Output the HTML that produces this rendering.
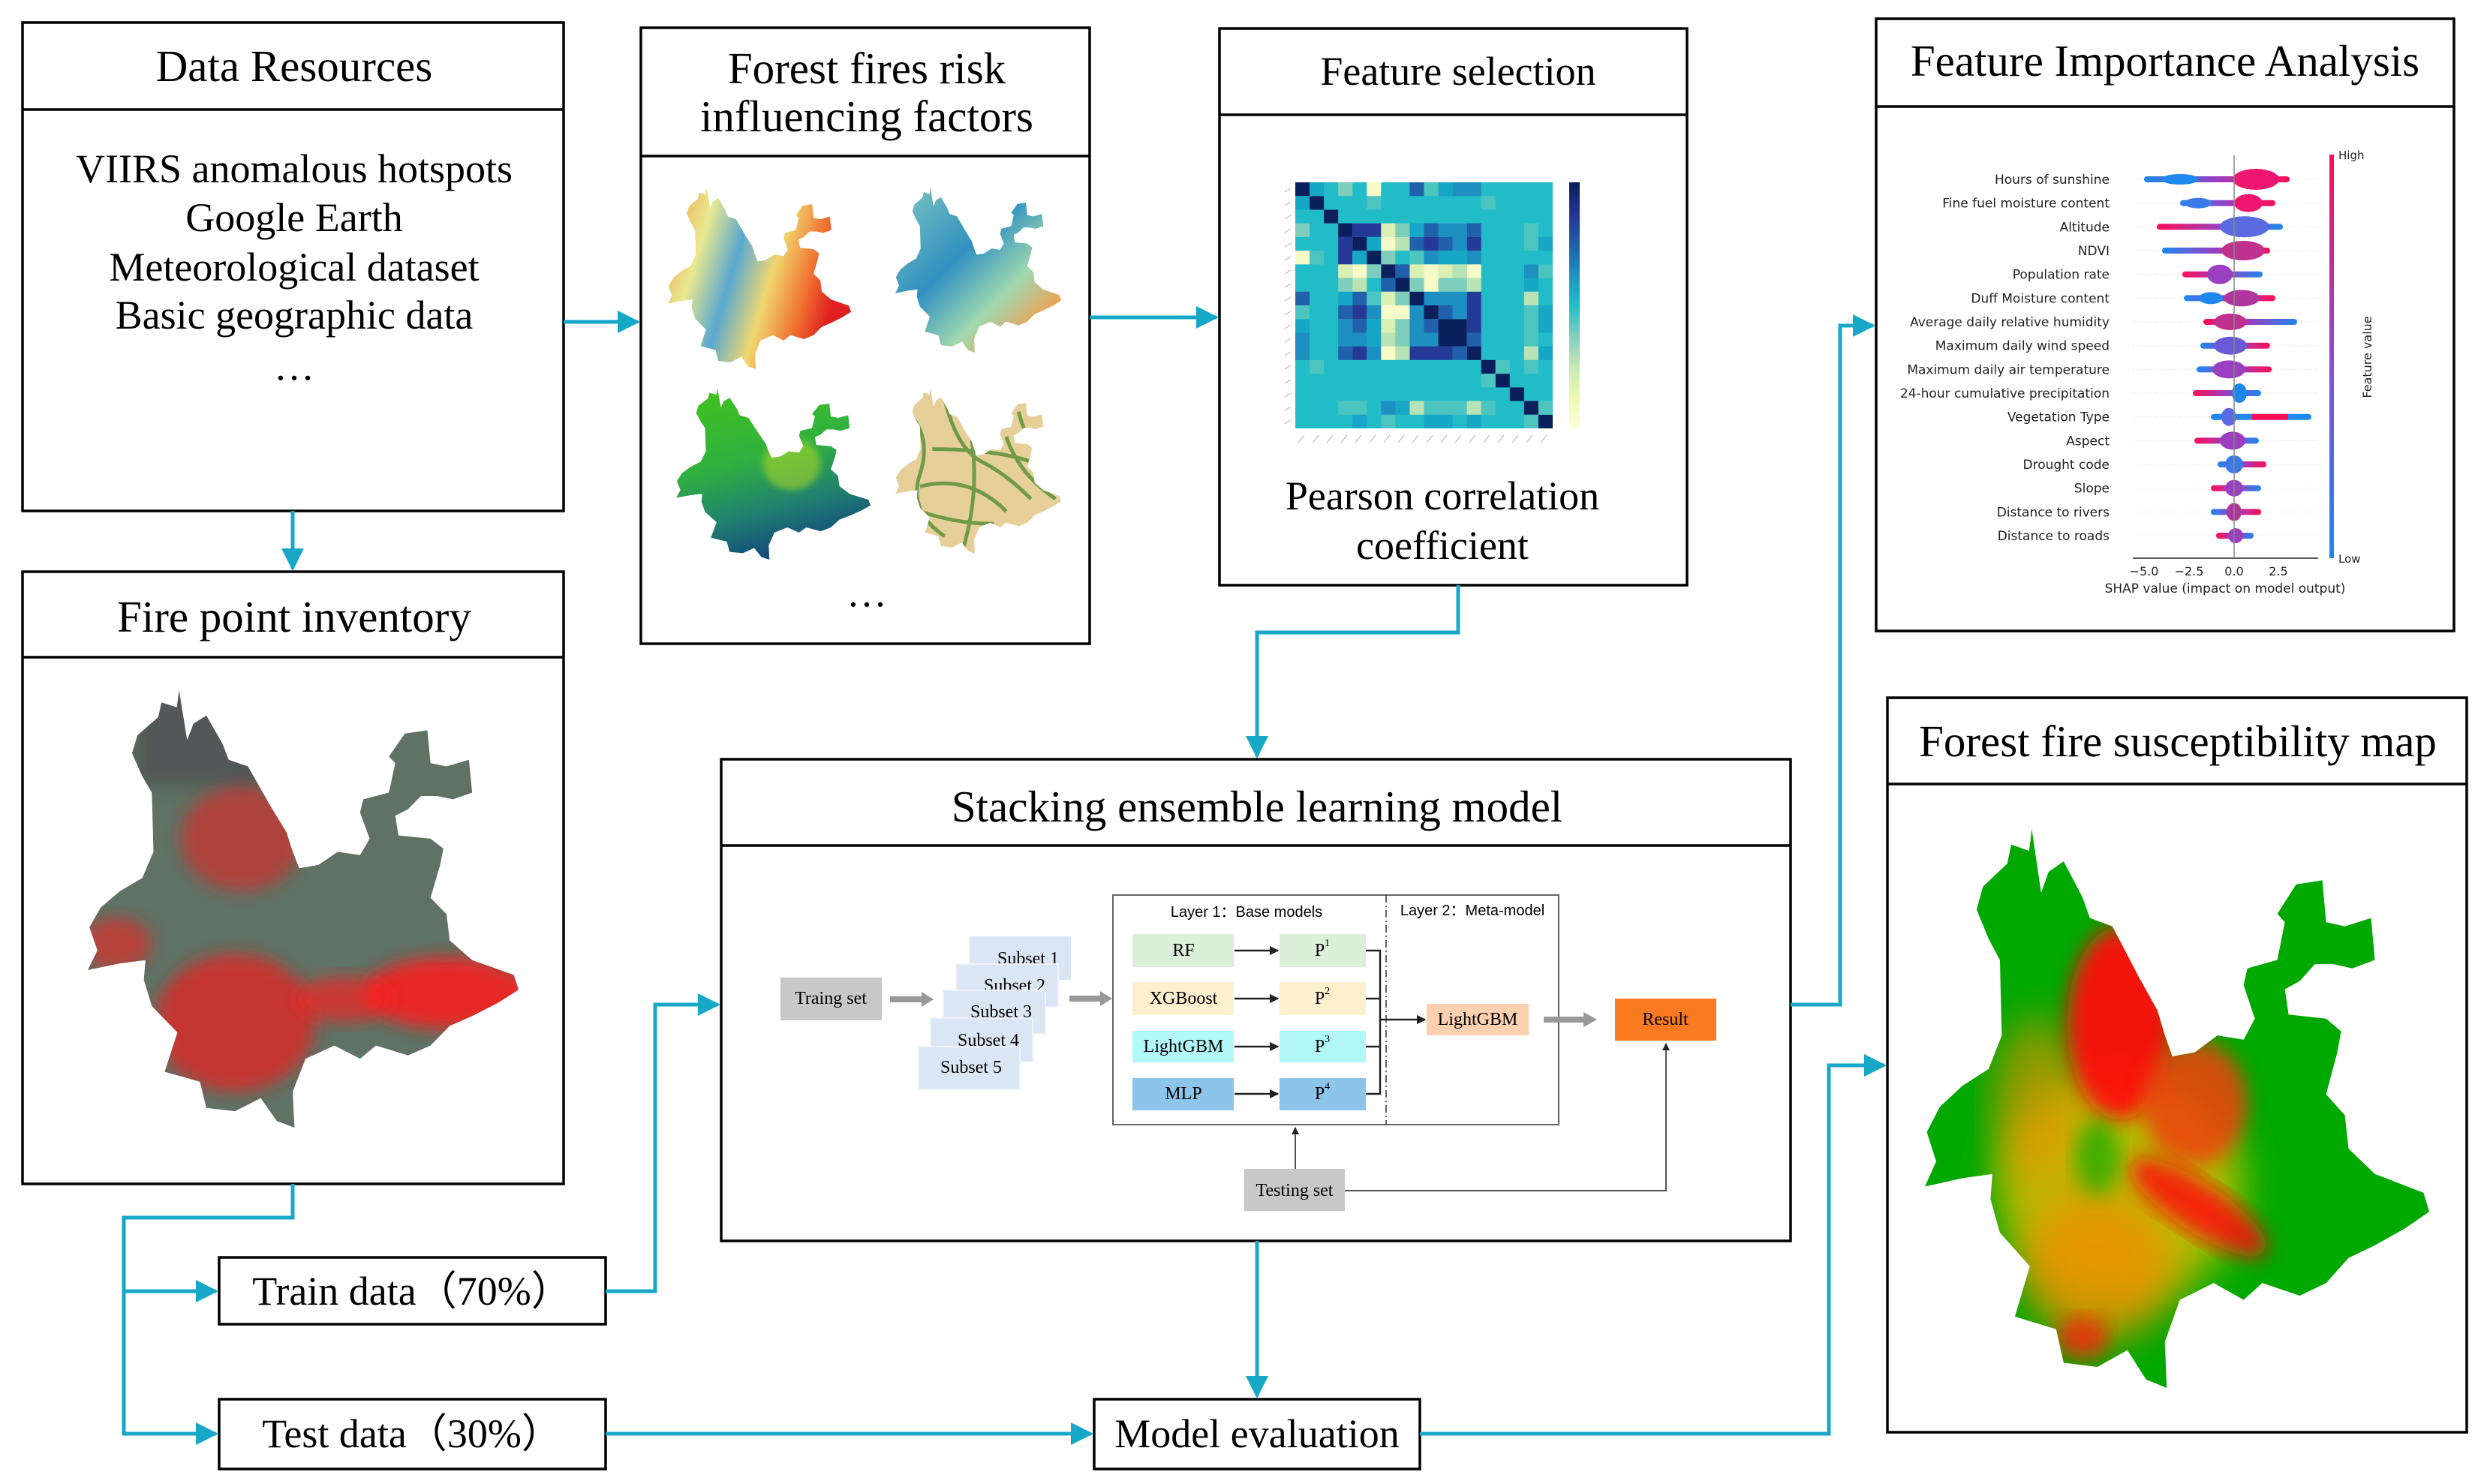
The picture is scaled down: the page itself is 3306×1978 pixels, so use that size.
<!DOCTYPE html>
<html><head><meta charset="utf-8"><style>
html,body{margin:0;padding:0;background:#fff;}
svg{display:block;}
.t{font-family:"Liberation Serif",serif;fill:#000;}
.s{font-family:"DejaVu Sans","Liberation Sans",sans-serif;fill:#222;}
</style></head><body>
<svg width="3306" height="1978" viewBox="0 0 3306 1978" xmlns="http://www.w3.org/2000/svg">
<defs>
<path id="yn" d="M385,108 L410,260 L430,210 L470,185 L520,270 L540,320 L600,340 L670,460 L720,540 L740,600 L760,650 L820,640 L880,600 L950,610 L980,560 L950,480 L960,440 L1040,420 L1060,330 L1040,310 L1090,240 L1160,230 L1170,330 L1220,340 L1290,320 L1300,420 L1240,440 L1190,430 L1140,430 L1100,470 L1060,490 L1070,550 L1170,560 L1210,590 L1200,640 L1170,740 L1220,790 L1230,870 L1300,930 L1430,975 L1445,1020 L1380,1060 L1300,1100 L1230,1130 L1170,1190 L1100,1220 L1000,1190 L950,1230 L870,1190 L780,1230 L740,1330 L745,1440 L690,1420 L640,1350 L560,1390 L470,1380 L450,1300 L340,1270 L380,1150 L300,1070 L275,990 L280,930 L200,940 L100,960 L130,900 L105,830 L140,770 L200,720 L270,680 L305,600 L300,420 L270,370 L238,300 L255,245 L320,190 L330,145 L378,160 Z"/>
<clipPath id="ynclip"><use href="#yn"/></clipPath>
<filter id="bl" x="-20%" y="-20%" width="140%" height="140%"><feGaussianBlur stdDeviation="25"/></filter>
<filter id="bl2" x="-20%" y="-20%" width="140%" height="140%"><feGaussianBlur stdDeviation="50"/></filter>
<linearGradient id="g1" x1="0" y1="0" x2="1" y2="0.3"><stop offset="0" stop-color="#f0a040"/><stop offset="0.25" stop-color="#e8e890"/><stop offset="0.45" stop-color="#5aa8d0"/><stop offset="0.65" stop-color="#f0d870"/><stop offset="0.85" stop-color="#f07030"/><stop offset="1" stop-color="#e02020"/></linearGradient>
<linearGradient id="g2" x1="0" y1="0" x2="1" y2="1"><stop offset="0" stop-color="#80c8c0"/><stop offset="0.4" stop-color="#3090c0"/><stop offset="0.65" stop-color="#a0d8b0"/><stop offset="0.85" stop-color="#f0a050"/><stop offset="1" stop-color="#d01030"/></linearGradient>
<linearGradient id="g3" x1="0.3" y1="0" x2="0.6" y2="1"><stop offset="0" stop-color="#40c020"/><stop offset="0.4" stop-color="#30b040"/><stop offset="0.7" stop-color="#208070"/><stop offset="1" stop-color="#104080"/></linearGradient>
<linearGradient id="cb" x1="0" y1="1" x2="0" y2="0"><stop offset="0" stop-color="#ffffd9"/><stop offset="0.125" stop-color="#edf8b1"/><stop offset="0.25" stop-color="#c7e9b4"/><stop offset="0.375" stop-color="#7fcdbb"/><stop offset="0.5" stop-color="#1fbfc8"/><stop offset="0.625" stop-color="#1d91c0"/><stop offset="0.75" stop-color="#225ea8"/><stop offset="0.875" stop-color="#253494"/><stop offset="1" stop-color="#081d58"/></linearGradient>
<linearGradient id="shc" x1="0" y1="1" x2="0" y2="0"><stop offset="0" stop-color="#1e88f0"/><stop offset="0.5" stop-color="#8a4ad0"/><stop offset="1" stop-color="#ff0d57"/></linearGradient>
<linearGradient id="bp" x1="0" y1="0" x2="1" y2="0"><stop offset="0" stop-color="#1e88f0"/><stop offset="0.5" stop-color="#9a3fc0"/><stop offset="1" stop-color="#ff0d57"/></linearGradient>
<linearGradient id="pb" x1="0" y1="0" x2="1" y2="0"><stop offset="0" stop-color="#ff0d57"/><stop offset="0.5" stop-color="#9a3fc0"/><stop offset="1" stop-color="#1e88f0"/></linearGradient>
<marker id="ah" viewBox="0 0 10 10" refX="9" refY="5" markerWidth="6" markerHeight="6" markerUnits="strokeWidth" orient="auto"><path d="M0,0 L10,5 L0,10 Z" fill="#17a8c8"/></marker>
<marker id="ak" viewBox="0 0 10 10" refX="9" refY="5" markerWidth="5" markerHeight="5" markerUnits="strokeWidth" orient="auto"><path d="M0,0 L10,5 L0,10 Z" fill="#222"/></marker>
</defs>

<!-- boxes -->
<g fill="none" stroke="#000" stroke-width="3.5">
<rect x="30" y="30" width="721" height="651"/><line x1="30" y1="146" x2="751" y2="146"/>
<rect x="30" y="762" width="721" height="816"/><line x1="30" y1="876" x2="751" y2="876"/>
<rect x="854" y="37" width="598" height="821"/><line x1="854" y1="208" x2="1452" y2="208"/>
<rect x="1625" y="38" width="623" height="742"/><line x1="1625" y1="153" x2="2248" y2="153"/>
<rect x="2500" y="25" width="770" height="816"/><line x1="2500" y1="142" x2="3270" y2="142"/>
<rect x="961" y="1012" width="1425" height="642"/><line x1="961" y1="1127" x2="2386" y2="1127"/>
<rect x="2515" y="930" width="772" height="979"/><line x1="2515" y1="1045" x2="3287" y2="1045"/>
<rect x="292" y="1676" width="515" height="89"/>
<rect x="292" y="1865" width="515" height="93"/>
<rect x="1458" y="1865" width="434" height="93"/>
</g>

<!-- titles -->
<g class="t" text-anchor="middle" dominant-baseline="central">
<g font-size="59">
<text x="392" y="88">Data Resources</text>
<text x="392" y="822">Fire point inventory</text>
<text x="1155" y="91">Forest fires risk</text>
<text x="1155" y="155">influencing factors</text>
<text x="2885" y="81">Feature Importance Analysis</text>
<text x="1675" y="1075">Stacking ensemble learning model</text>
<text x="2902" y="988">Forest fire susceptibility map</text>
</g>
<g font-size="54">
<text x="392" y="225">VIIRS anomalous hotspots</text>
<text x="392" y="290">Google Earth</text>
<text x="392" y="356">Meteorological dataset</text>
<text x="392" y="420">Basic geographic data</text>
<text x="392" y="488">…</text>
<text x="1155" y="790">…</text>
<text x="1943" y="95">Feature selection</text>
<text x="1922" y="661">Pearson correlation</text>
<text x="1922" y="727">coefficient</text>
<text x="549" y="1721">Train data（70%）</text>
<text x="549" y="1911">Test data（30%）</text>
<text x="1675" y="1911">Model evaluation</text>
</g>
</g>

<!-- connectors -->
<g fill="none" stroke="#17a8c8" stroke-width="5">
<path d="M751,429 H850" marker-end="url(#ah)"/>
<path d="M1452,423 H1621" marker-end="url(#ah)"/>
<path d="M390,681 V758" marker-end="url(#ah)"/>
<path d="M1943,780 V843 H1675 V1008" marker-end="url(#ah)"/>
<path d="M2386,1339 H2452 V434 H2496" marker-end="url(#ah)"/>
<path d="M390,1578 V1623 H165 V1911 H288" marker-end="url(#ah)"/>
<path d="M165,1721 H288" marker-end="url(#ah)"/>
<path d="M807,1721 H873 V1339 H957" marker-end="url(#ah)"/>
<path d="M807,1911 H1454" marker-end="url(#ah)"/>
<path d="M1675,1654 V1861" marker-end="url(#ah)"/>
<path d="M1892,1911 H2437 V1420 H2511" marker-end="url(#ah)"/>
</g>

<!-- Fire point map -->
<g transform="translate(117,920) scale(0.4268,0.4377) translate(-100,-108)">
<g clip-path="url(#ynclip)">
<rect x="0" y="0" width="1600" height="1600" fill="#5f7264"/>
<rect x="250" y="100" width="400" height="300" fill="#4a4a50" opacity="0.6" filter="url(#bl)"/>
<ellipse cx="1220" cy="1030" rx="260" ry="110" fill="#ff1a1a" opacity="0.85" filter="url(#bl)"/>
<ellipse cx="560" cy="1120" rx="250" ry="210" fill="#f01a1a" opacity="0.7" filter="url(#bl)"/>
<ellipse cx="580" cy="560" rx="190" ry="160" fill="#f01a1a" opacity="0.55" filter="url(#bl)"/>
<ellipse cx="190" cy="880" rx="110" ry="80" fill="#ff1a1a" opacity="0.55" filter="url(#bl)"/>
<ellipse cx="900" cy="1050" rx="150" ry="70" fill="#ff1a1a" opacity="0.65" filter="url(#bl)"/>
</g></g>

<!-- small maps -->
<g transform="translate(890,250) scale(0.1814,0.1817) translate(-100,-108)"><use href="#yn" fill="url(#g1)"/></g>
<g transform="translate(1193,250) scale(0.1643,0.1652) translate(-100,-108)"><use href="#yn" fill="url(#g2)"/></g>
<g transform="translate(901,517) scale(0.1926,0.1719) translate(-100,-108)"><use href="#yn" fill="url(#g3)"/><g clip-path="url(#ynclip)"><ellipse cx="900" cy="700" rx="200" ry="200" fill="#c0e020" opacity="0.5" filter="url(#bl)"/></g></g>
<g transform="translate(1193,517) scale(0.1643,0.1659) translate(-100,-108)"><use href="#yn" fill="#e6cf98"/><g clip-path="url(#ynclip)" stroke="#6f9a48" stroke-width="30" fill="none"><path d="M200,300 Q400,500 300,800 T500,1300 M500,200 Q600,600 800,700 T1200,1000 M300,900 Q700,800 1000,1100 M700,400 Q800,900 650,1400 M1000,500 Q1100,800 1400,1000 M400,600 Q900,600 1200,700 M300,1100 Q600,1200 900,1200 M1100,300 Q1150,500 1250,600"/></g></g>

<!-- heatmap -->
<svg x="1726" y="243" width="343" height="328" viewBox="0 0 18 18" preserveAspectRatio="none">
<rect x="0" y="0" width="18" height="18" fill="#22bcc8"/>
<path fill="#0b1f5c" d="M0 0h1v1h-1z M1 1h1v1h-1z M2 2h1v1h-1z M3 3h1v1h-1z M4 4h1v1h-1z M5 5h1v1h-1z M6 6h1v1h-1z M7 7h1v1h-1z M8 8h1v1h-1z M9 9h1v1h-1z M10 10h1v1h-1z M11 11h1v1h-1z M12 12h1v1h-1z M13 13h1v1h-1z M14 14h1v1h-1z M15 15h1v1h-1z M16 16h1v1h-1z M17 17h1v1h-1z M11 10h1v1h-1z M10 11h1v1h-1z"/>
<path fill="#243a96" d="M4 3h1v1h-1z M3 4h1v1h-1z M5 3h1v1h-1z M3 5h1v1h-1z M9 4h1v1h-1z M4 9h1v1h-1z M12 4h1v1h-1z M4 12h1v1h-1z M12 8h1v1h-1z M8 12h1v1h-1z M12 9h1v1h-1z M9 12h1v1h-1z M12 10h1v1h-1z M10 12h1v1h-1z"/>
<path fill="#2160aa" d="M8 0h1v1h-1z M0 8h1v1h-1z M9 3h1v1h-1z M3 9h1v1h-1z M12 3h1v1h-1z M3 12h1v1h-1z M8 4h1v1h-1z M4 8h1v1h-1z M10 4h1v1h-1z M4 10h1v1h-1z M7 6h1v1h-1z M6 7h1v1h-1z M10 9h1v1h-1z M9 10h1v1h-1z M12 11h1v1h-1z M11 12h1v1h-1z"/>
<path fill="#1d8fc0" d="M11 0h1v1h-1z M0 11h1v1h-1z M12 0h1v1h-1z M0 12h1v1h-1z M10 3h1v1h-1z M3 10h1v1h-1z M11 3h1v1h-1z M3 11h1v1h-1z M11 4h1v1h-1z M4 11h1v1h-1z M9 5h1v1h-1z M5 9h1v1h-1z M12 5h1v1h-1z M5 12h1v1h-1z M16 6h1v1h-1z M6 16h1v1h-1z M9 8h1v1h-1z M8 9h1v1h-1z M10 8h1v1h-1z M8 10h1v1h-1z M11 8h1v1h-1z M8 11h1v1h-1z M11 9h1v1h-1z M9 11h1v1h-1z"/>
<path fill="#16a6c6" d="M1 0h1v1h-1z M0 1h1v1h-1z M10 0h1v1h-1z M0 10h1v1h-1z M8 3h1v1h-1z M3 8h1v1h-1z M5 4h1v1h-1z M4 5h1v1h-1z M17 4h1v1h-1z M4 17h1v1h-1z M10 5h1v1h-1z M5 10h1v1h-1z M11 5h1v1h-1z M5 11h1v1h-1z M16 7h1v1h-1z M7 16h1v1h-1z M17 9h1v1h-1z M9 17h1v1h-1z M17 10h1v1h-1z M10 17h1v1h-1z M17 12h1v1h-1z M12 17h1v1h-1z"/>
<path fill="#4cc4c0" d="M9 0h1v1h-1z M0 9h1v1h-1z M5 1h1v1h-1z M1 5h1v1h-1z M13 1h1v1h-1z M1 13h1v1h-1z M16 3h1v1h-1z M3 16h1v1h-1z M16 4h1v1h-1z M4 16h1v1h-1z M8 5h1v1h-1z M5 8h1v1h-1z M17 6h1v1h-1z M6 17h1v1h-1z M16 9h1v1h-1z M9 16h1v1h-1z M16 10h1v1h-1z M10 16h1v1h-1z M16 11h1v1h-1z M11 16h1v1h-1z M14 13h1v1h-1z M13 14h1v1h-1z M16 13h1v1h-1z M13 16h1v1h-1z M17 16h1v1h-1z M16 17h1v1h-1z"/>
<path fill="#7fcdbb" d="M3 0h1v1h-1z M0 3h1v1h-1z M7 3h1v1h-1z M3 7h1v1h-1z M6 5h1v1h-1z M5 6h1v1h-1z M8 7h1v1h-1z M7 8h1v1h-1z M10 7h1v1h-1z M7 10h1v1h-1z M11 7h1v1h-1z M7 11h1v1h-1z"/>
<path fill="#b8e3b5" d="M7 4h1v1h-1z M4 7h1v1h-1z M11 6h1v1h-1z M6 11h1v1h-1z M12 7h1v1h-1z M7 12h1v1h-1z M16 8h1v1h-1z M8 16h1v1h-1z M16 12h1v1h-1z M12 16h1v1h-1z"/>
<path fill="#dcf0b4" d="M6 3h1v1h-1z M3 6h1v1h-1z M8 6h1v1h-1z M6 8h1v1h-1z M10 6h1v1h-1z M6 10h1v1h-1z"/>
<path fill="#f6fbc8" d="M5 0h1v1h-1z M0 5h1v1h-1z M6 4h1v1h-1z M4 6h1v1h-1z M9 6h1v1h-1z M6 9h1v1h-1z M12 6h1v1h-1z M6 12h1v1h-1z M9 7h1v1h-1z M7 9h1v1h-1z"/>
</svg>
<rect x="2091" y="243" width="14" height="328" fill="url(#cb)"/>
<g stroke="#aaa" stroke-width="1">
<path d="M1712,256 l8,-5 M1712,274 l8,-5 M1712,292 l8,-5 M1712,310 l8,-5 M1712,329 l8,-5 M1712,347 l8,-5 M1712,365 l8,-5 M1712,383 l8,-5 M1712,401 l8,-5 M1712,420 l8,-5 M1712,438 l8,-5 M1712,456 l8,-5 M1712,474 l8,-5 M1712,492 l8,-5 M1712,511 l8,-5 M1712,529 l8,-5 M1712,547 l8,-5 M1712,565 l8,-5"/>
<path d="M1730,590 l8,-10 M1749,590 l8,-10 M1768,590 l8,-10 M1787,590 l8,-10 M1806,590 l8,-10 M1825,590 l8,-10 M1844,590 l8,-10 M1863,590 l8,-10 M1882,590 l8,-10 M1901,590 l8,-10 M1920,590 l8,-10 M1939,590 l8,-10 M1958,590 l8,-10 M1977,590 l8,-10 M1996,590 l8,-10 M2015,590 l8,-10 M2034,590 l8,-10 M2053,590 l8,-10"/>
</g>

<!-- SHAP -->
<g stroke="#ccc" stroke-width="1" stroke-dasharray="1,3">
<path d="M2842,239H3089 M2842,270.7H3089 M2842,302.3H3089 M2842,334H3089 M2842,365.7H3089 M2842,397.4H3089 M2842,429H3089 M2842,460.7H3089 M2842,492.4H3089 M2842,524H3089 M2842,555.7H3089 M2842,587.4H3089 M2842,619H3089 M2842,650.7H3089 M2842,682.4H3089 M2842,714H3089"/>
</g>
<g>
<rect x="2857" y="235" width="194" height="8" rx="4" fill="url(#bp)"/><ellipse cx="2905" cy="239" rx="25" ry="7" fill="#1e88f0"/><ellipse cx="3006" cy="239" rx="31" ry="14" fill="#f01570"/>
<rect x="2905" y="266.7" width="127" height="8" rx="4" fill="url(#bp)"/><ellipse cx="2929" cy="270.7" rx="18" ry="7" fill="#3a7ae8"/><ellipse cx="2996" cy="270.7" rx="19" ry="12" fill="#f01570"/>
<rect x="2874" y="298.3" width="168" height="8" rx="4" fill="url(#pb)"/><ellipse cx="2991" cy="302.3" rx="33" ry="14" fill="#5a6ae0"/>
<rect x="2881" y="330" width="144" height="8" rx="4" fill="url(#bp)"/><ellipse cx="2989" cy="334" rx="29" ry="13" fill="#c0308f"/>
<rect x="2908" y="361.7" width="107" height="8" rx="4" fill="url(#pb)"/><ellipse cx="2958" cy="365.7" rx="17" ry="13" fill="#9a3fc0"/>
<rect x="2910" y="393.4" width="122" height="8" rx="4" fill="url(#bp)"/><ellipse cx="2946" cy="397.4" rx="16" ry="8" fill="#1e88f0"/><ellipse cx="2987" cy="397.4" rx="24" ry="11" fill="#b0359f"/>
<rect x="2936" y="425" width="125" height="8" rx="4" fill="url(#pb)"/><ellipse cx="2972" cy="429" rx="22" ry="11" fill="#c0308f"/>
<rect x="2932" y="456.7" width="93" height="8" rx="4" fill="url(#bp)"/><ellipse cx="2972" cy="460.7" rx="22" ry="12" fill="#6a5ad8"/>
<rect x="2927" y="488.4" width="100" height="8" rx="4" fill="url(#bp)"/><ellipse cx="2970" cy="492.4" rx="22" ry="12" fill="#9a3fc0"/>
<rect x="2922" y="520" width="91" height="8" rx="4" fill="url(#pb)"/><ellipse cx="2984" cy="524" rx="10" ry="13" fill="#1e88f0"/>
<rect x="2946" y="551.7" width="134" height="8" rx="4" fill="#1e88f0"/><rect x="3001" y="551.7" width="48" height="8" fill="#ff0d57"/><ellipse cx="2970" cy="555.7" rx="10" ry="12" fill="#5a6ae0"/>
<rect x="2924" y="583.4" width="86" height="8" rx="4" fill="url(#pb)"/><ellipse cx="2975" cy="587.4" rx="17" ry="12" fill="#9a3fc0"/>
<rect x="2955" y="615" width="65" height="8" rx="4" fill="url(#bp)"/><ellipse cx="2977" cy="619" rx="12" ry="12" fill="#3a7ae8"/>
<rect x="2946" y="646.7" width="67" height="8" rx="4" fill="url(#pb)"/><ellipse cx="2977" cy="650.7" rx="12" ry="11" fill="#9a3fc0"/>
<rect x="2946" y="678.4" width="67" height="8" rx="4" fill="url(#bp)"/><ellipse cx="2977" cy="682.4" rx="10" ry="12" fill="#b0359f"/>
<rect x="2953" y="710" width="50" height="8" rx="4" fill="url(#pb)"/><ellipse cx="2979" cy="714" rx="10" ry="10" fill="#9a3fc0"/>
</g>
<g class="s" font-size="17" text-anchor="end">
<text x="2811" y="245">Hours of sunshine</text>
<text x="2811" y="276.7">Fine fuel moisture content</text>
<text x="2811" y="308.3">Altitude</text>
<text x="2811" y="340">NDVI</text>
<text x="2811" y="371.7">Population rate</text>
<text x="2811" y="403.4">Duff Moisture content</text>
<text x="2811" y="435">Average daily relative humidity</text>
<text x="2811" y="466.7">Maximum daily wind speed</text>
<text x="2811" y="498.4">Maximum daily air temperature</text>
<text x="2811" y="530">24-hour cumulative precipitation</text>
<text x="2811" y="561.7">Vegetation Type</text>
<text x="2811" y="593.4">Aspect</text>
<text x="2811" y="625">Drought code</text>
<text x="2811" y="656.7">Slope</text>
<text x="2811" y="688.4">Distance to rivers</text>
<text x="2811" y="720">Distance to roads</text>
</g>
<rect x="3104" y="206" width="6" height="538" fill="url(#shc)"/>
<text class="s" x="3116" y="212" font-size="15">High</text>
<text class="s" x="3116" y="750" font-size="15">Low</text>
<text class="s" x="3160" y="476" font-size="16" text-anchor="middle" transform="rotate(-90 3160 476)">Feature value</text>
<line x1="2842" y1="744" x2="3089" y2="744" stroke="#222" stroke-width="1.5"/>
<line x1="2977" y1="207" x2="2977" y2="744" stroke="#888" stroke-width="1.5"/>
<g class="s" font-size="16" text-anchor="middle">
<text x="2857" y="767">−5.0</text><text x="2917" y="767">−2.5</text><text x="2977" y="767">0.0</text><text x="3036" y="767">2.5</text>
<text x="2965" y="790" font-size="17">SHAP value (impact on model output)</text>
</g>

<!-- Susceptibility map -->
<g transform="translate(2565,1105) scale(0.4996,0.5593) translate(-100,-108)">
<use href="#yn" fill="#00a800"/>
<g clip-path="url(#ynclip)">
<ellipse cx="620" cy="960" rx="330" ry="280" fill="#e0c000" opacity="0.8" filter="url(#bl2)"/>
<ellipse cx="560" cy="1150" rx="200" ry="180" fill="#f09000" opacity="0.8" filter="url(#bl2)"/>
<ellipse cx="400" cy="760" rx="120" ry="200" fill="#f09000" opacity="0.6" filter="url(#bl2)"/>
<ellipse cx="620" cy="570" rx="140" ry="230" fill="#ff1010" opacity="0.95" filter="url(#bl)"/>
<ellipse cx="820" cy="760" rx="140" ry="150" fill="#f04010" opacity="0.85" filter="url(#bl)"/>
<ellipse cx="830" cy="1010" rx="210" ry="60" fill="#ff1010" opacity="0.85" filter="url(#bl)" transform="rotate(30 830 1010)"/>
<ellipse cx="520" cy="1320" rx="70" ry="50" fill="#ff2010" opacity="0.8" filter="url(#bl)"/>
<ellipse cx="560" cy="890" rx="60" ry="90" fill="#00a800" opacity="0.6" filter="url(#bl)"/>
</g></g>

<!-- Stacking internals -->
<g font-family="Liberation Serif,serif" font-size="24" text-anchor="middle" dominant-baseline="central">
<rect x="1483" y="1193" width="594" height="306" fill="#fff" stroke="#666" stroke-width="2"/>
<line x1="1847" y1="1193" x2="1847" y2="1499" stroke="#333" stroke-width="1.5" stroke-dasharray="10,4,2,4"/>
<text x="1661" y="1216" font-family="Liberation Sans,sans-serif" font-size="20">Layer 1：Base models</text>
<text x="1962" y="1214" font-family="Liberation Sans,sans-serif" font-size="20">Layer 2：Meta-model</text>
<rect x="1040" y="1303" width="135" height="57" fill="#c8c8c8"/><text x="1107" y="1331">Traing set</text>
<rect x="1292" y="1248" width="135" height="58" fill="#dbe6f4"/><text x="1370" y="1278">Subset 1</text>
<rect x="1274" y="1285" width="136" height="57" fill="#dbe6f4" stroke="#eef3fa" stroke-width="2"/><text x="1352" y="1314">Subset 2</text>
<rect x="1257" y="1320" width="136" height="58" fill="#dbe6f4" stroke="#eef3fa" stroke-width="2"/><text x="1334" y="1349">Subset 3</text>
<rect x="1240" y="1357" width="136" height="58" fill="#dbe6f4" stroke="#eef3fa" stroke-width="2"/><text x="1317" y="1387">Subset 4</text>
<rect x="1224" y="1395" width="135" height="57" fill="#dbe6f4" stroke="#eef3fa" stroke-width="2"/><text x="1294" y="1423">Subset 5</text>
<path d="M1186,1332 H1230" stroke="#999" stroke-width="8"/><path d="M1228,1322 L1244,1332 L1228,1342 Z" fill="#999"/>
<path d="M1425,1331 H1468" stroke="#999" stroke-width="8"/><path d="M1466,1321 L1482,1331 L1466,1341 Z" fill="#999"/>
<rect x="1509" y="1245" width="135" height="44" fill="#dcefd8"/><text x="1577" y="1267">RF</text>
<rect x="1509" y="1309" width="135" height="44" fill="#fdf0cf"/><text x="1577" y="1331">XGBoost</text>
<rect x="1509" y="1374" width="135" height="42" fill="#b3f8f8"/><text x="1577" y="1395">LightGBM</text>
<rect x="1509" y="1437" width="135" height="43" fill="#8cc4ea"/><text x="1577" y="1458">MLP</text>
<rect x="1705" y="1245" width="115" height="44" fill="#dcefd8"/><text x="1762" y="1267">P<tspan font-size="14" dy="-10">1</tspan></text>
<rect x="1705" y="1309" width="115" height="44" fill="#fdf0cf"/><text x="1762" y="1331">P<tspan font-size="14" dy="-10">2</tspan></text>
<rect x="1705" y="1374" width="115" height="42" fill="#b3f8f8"/><text x="1762" y="1395">P<tspan font-size="14" dy="-10">3</tspan></text>
<rect x="1705" y="1437" width="115" height="43" fill="#8cc4ea"/><text x="1762" y="1458">P<tspan font-size="14" dy="-10">4</tspan></text>
<g stroke="#222" stroke-width="2.5" fill="none">
<path d="M1645,1267 H1703" marker-end="url(#ak)"/><path d="M1645,1331 H1703" marker-end="url(#ak)"/>
<path d="M1645,1395 H1703" marker-end="url(#ak)"/><path d="M1645,1458 H1703" marker-end="url(#ak)"/>
<path d="M1820,1267 H1839 V1458 H1820 M1820,1331 H1839 M1820,1395 H1839"/>
<path d="M1839,1359 H1899" marker-end="url(#ak)"/>
</g>
<rect x="1901" y="1338" width="136" height="42" fill="#fdd0b0"/><text x="1969" y="1359">LightGBM</text>
<path d="M2057,1359 H2112" stroke="#999" stroke-width="8"/><path d="M2110,1349 L2128,1359 L2110,1369 Z" fill="#999"/>
<rect x="2152" y="1331" width="135" height="56" fill="#fa7a22"/><text x="2219" y="1359">Result</text>
<rect x="1658" y="1558" width="134" height="56" fill="#c8c8c8"/><text x="1725" y="1587">Testing set</text>
<g stroke="#555" stroke-width="2" fill="none">
<path d="M1726,1558 V1503" marker-end="url(#ak)"/>
<path d="M1792,1587 H2220 V1391" marker-end="url(#ak)"/>
</g>
</g>
</svg>
</body></html>
